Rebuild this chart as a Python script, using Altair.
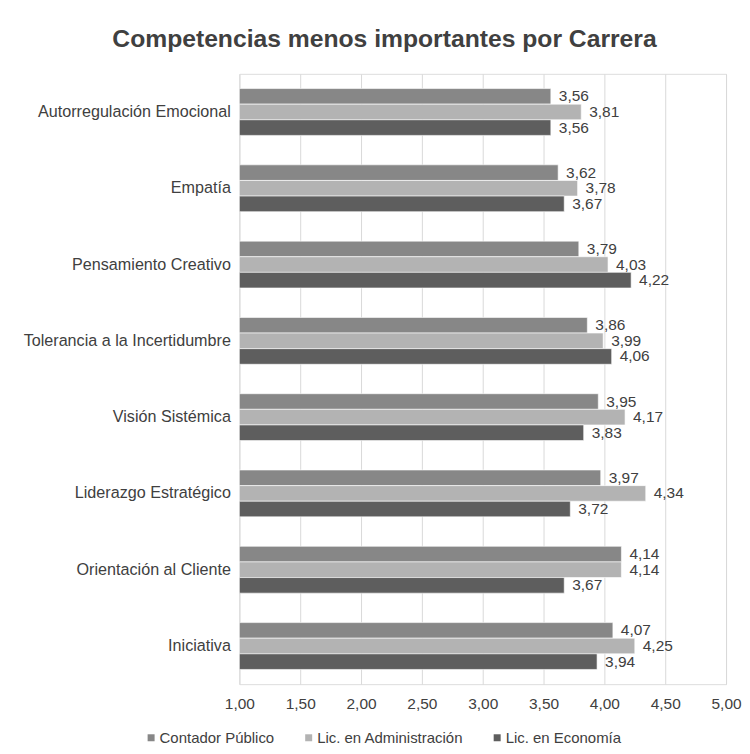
import altair as alt
import pandas as pd

categorias = [
    "Autorregulación Emocional",
    "Empatía",
    "Pensamiento Creativo",
    "Tolerancia a la Incertidumbre",
    "Visión Sistémica",
    "Liderazgo Estratégico",
    "Orientación al Cliente",
    "Iniciativa",
]
series = ["Contador Público", "Lic. en Administración", "Lic. en Economía"]
contador = [3.56, 3.62, 3.79, 3.86, 3.95, 3.97, 4.14, 4.07]
administracion = [3.81, 3.78, 4.03, 3.99, 4.17, 4.34, 4.14, 4.25]
economia = [3.56, 3.67, 4.22, 4.06, 3.83, 3.72, 3.67, 3.94]
ticks_x = [1.0, 1.5, 2.0, 2.5, 3.0, 3.5, 4.0, 4.5, 5.0]
colores = ["#878787", "#b3b3b3", "#5e5e5e"]

rows = []
for s, vals in zip(series, [contador, administracion, economia]):
    for c, v in zip(categorias, vals):
        rows.append({"Competencia": c, "Carrera": s, "Valor": v,
                     "Etiqueta": f"{v:.2f}".replace(".", ",")})
df = pd.DataFrame(rows)

FONT = "Liberation Sans"
TXT = "#404040"
FS = 15.5

base = alt.Chart(df).encode(
    y=alt.Y("Competencia:N", sort=categorias,
            scale=alt.Scale(paddingInner=0.386, paddingOuter=0.193),
            axis=alt.Axis(title=None, ticks=False, domain=False, labelPadding=9,
                          minExtent=232, maxExtent=232, labelFontSize=16.2,
                          labelColor=TXT, labelFont=FONT, labelLimit=300)),
    yOffset=alt.YOffset("Carrera:N", sort=series),
)

xscale = alt.Scale(domain=[1, 5], zero=False, nice=False)

bars = base.mark_bar(stroke="white", strokeOpacity=0.6, strokeWidth=1).encode(
    x=alt.X("Valor:Q", scale=xscale,
            axis=alt.Axis(title=None, values=ticks_x, grid=True, gridColor="#d9d9d9",
                          domain=False, ticks=False, labelPadding=12, labelFontSize=FS,
                          labelColor=TXT, labelFont=FONT, labelFlush=False,
                          labelExpr="replace(format(datum.value, '.2f'), '.', ',')")),
    x2=alt.datum(1),
    color=alt.Color("Carrera:N", sort=series,
                    scale=alt.Scale(domain=series, range=colores),
                    legend=alt.Legend(title=None, orient="none", direction="horizontal",
                                      legendX=-96, legendY=658, symbolType="square",
                                      symbolSize=49, symbolStrokeWidth=0,
                                      labelFontSize=15, labelColor=TXT, labelFont=FONT,
                                      columnPadding=26, labelOffset=1)),
)

labels = base.mark_text(align="left", baseline="middle", dx=8, fontSize=FS,
                        color=TXT, font=FONT).encode(
    x=alt.X("Valor:Q", scale=xscale),
    text="Etiqueta:N",
)

chart = alt.layer(bars, labels).properties(
    width=488,
    height=612,
    title=alt.TitleParams("Competencias menos importantes por Carrera", fontSize=24.75,
                          fontWeight="bold", color=TXT, font=FONT, anchor="middle",
                          dx=-98.5, offset=22),
    padding={"left": 232, "top": 65, "right": 16, "bottom": 61},
    autosize=alt.AutoSizeParams(type="none"),
).configure_view(stroke=None).configure(font=FONT)

chart.save("out.html", embed_options={"renderer": "svg", "actions": False})
